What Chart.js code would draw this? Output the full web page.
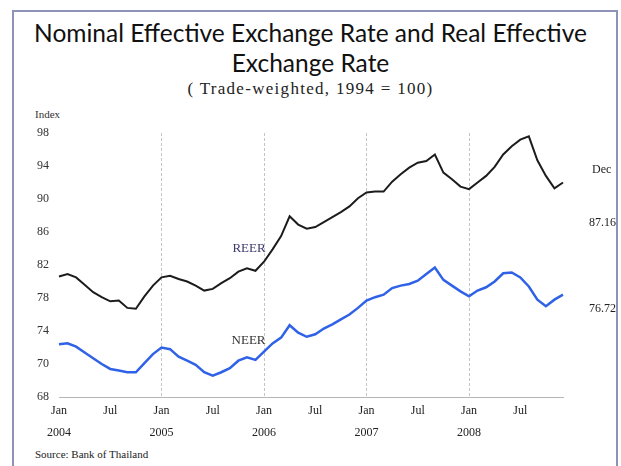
<!DOCTYPE html>
<html>
<head>
<meta charset="utf-8">
<script src="https://cdn.jsdelivr.net/npm/chart.js@4.4.1/dist/chart.umd.min.js"></script>
<style>
  html, body { margin: 0; padding: 0; background: #fff; }
  #contenedor { position: relative; width: 621px; height: 466px; overflow: hidden; background: #fff; }
  #marco { position: absolute; left: 12px; top: 10px; width: 606px; height: 480px; border: 2px solid #8e92b6; box-sizing: border-box; }
  #titulo { position: absolute; left: 0; top: 18px; width: 621px; text-align: center; font-family: 'Lato', sans-serif; font-size: 24.5px; line-height: 30px; color: #111; }
  #subtitulo { position: absolute; left: 0; top: 79px; width: 621px; text-align: center; font-family: 'Liberation Serif', serif; font-size: 17px; letter-spacing: 1.3px; color: #222; }
  #indice { position: absolute; left: 35px; top: 108px; font-family: 'Liberation Serif', serif; font-size: 11px; color: #333; }
  #fuente { position: absolute; left: 35px; top: 448px; font-family: 'Liberation Serif', serif; font-size: 11px; color: #222; }
  #grafico { position: absolute; left: 0; top: 0; }
</style>
</head>
<body>
<div id="contenedor">
  <div id="marco"></div>
  <div id="titulo">Nominal Effective Exchange Rate and Real Effective<br>Exchange Rate</div>
  <div id="subtitulo">( Trade-weighted, 1994 = 100)</div>
  <div id="indice">Index</div>
  <div id="fuente">Source: Bank of Thailand</div>
  <canvas id="grafico" width="621" height="466"></canvas>
</div>
<script>
const meses = ['Jan', 'Feb', 'Mar', 'Apr', 'May', 'Jun', 'Jul', 'Aug', 'Sep', 'Oct', 'Nov', 'Dec'];
const anios = ['2004', '2005', '2006', '2007', '2008'];

// REER (negro) y NEER (azul), mensual ene-2004 a dic-2008
const reer = [
  80.6, 80.9, 80.5, 79.6, 78.7, 78.1, 77.6, 77.7, 76.8, 76.7, 78.2, 79.5,
  80.5, 80.7, 80.3, 80.0, 79.5, 78.9, 79.1, 79.8, 80.4, 81.2, 81.6, 81.3,
  82.4, 83.9, 85.5, 87.9, 86.9, 86.4, 86.6, 87.2, 87.8, 88.4, 89.1, 90.1,
  90.8, 90.9, 90.9, 92.1, 93.0, 93.8, 94.4, 94.6, 95.4, 93.2, 92.4, 91.5,
  91.2, 92.0, 92.8, 93.9, 95.4, 96.4, 97.2, 97.6, 94.7, 92.8, 91.3, 92.0
];
const neer = [
  72.4, 72.5, 72.1, 71.4, 70.7, 70.0, 69.4, 69.2, 69.0, 69.0, 70.1, 71.2,
  72.0, 71.8, 70.9, 70.4, 69.9, 69.0, 68.6, 69.0, 69.5, 70.4, 70.8, 70.5,
  71.5, 72.5, 73.2, 74.7, 73.8, 73.3, 73.6, 74.3, 74.8, 75.4, 76.0, 76.8,
  77.7, 78.1, 78.4, 79.2, 79.5, 79.7, 80.1, 80.9, 81.7, 80.2, 79.5, 78.8,
  78.2, 78.9, 79.3, 80.0, 81.0, 81.1, 80.5, 79.4, 77.8, 77.0, 77.8, 78.4
];

// etiquetas del eje y tal como aparecen (la de abajo dice 68)
const etiquetasY = ['68', '70', '74', '78', '82', '86', '90', '94', '98'];
const etiquetasX = { 0: 'Jan', 6: 'Jul' };
const valoresFinales = ['87.16', '76.72'];

const categorias = [];
anios.forEach(a => meses.forEach(m => categorias.push(m + ' ' + a)));

const fuenteSerif = 'Liberation Serif';

const anotaciones = {
  id: 'anotaciones',
  afterDatasetsDraw(chart) {
    const { ctx, scales: { x, y } } = chart;
    ctx.save();
    ctx.textBaseline = 'middle';
    ctx.textAlign = 'left';
    ctx.font = `13px "${fuenteSerif}"`;
    ctx.fillStyle = '#3b3a6c';
    ctx.fillText('REER', x.getPixelForValue(20.3), y.getPixelForValue(84.0));
    ctx.fillStyle = '#333';
    ctx.fillText('NEER', x.getPixelForValue(20.2), y.getPixelForValue(72.8));
    ctx.font = `12px "${fuenteSerif}"`;
    ctx.fillStyle = '#222';
    ctx.fillText('Dec', x.right + 29, y.getPixelForValue(93.5));
    ctx.fillText(valoresFinales[0], x.right + 26, y.getPixelForValue(parseFloat(valoresFinales[0])));
    ctx.fillText(valoresFinales[1], x.right + 26, y.getPixelForValue(parseFloat(valoresFinales[1])));
    ctx.restore();
  }
};

new Chart(document.getElementById('grafico'), {
  type: 'line',
  data: {
    labels: categorias,
    datasets: [
      {
        label: 'REER',
        data: reer,
        borderColor: '#1c1c1c',
        borderWidth: 2,
        pointRadius: 0,
        tension: 0,
        fill: false
      },
      {
        label: 'NEER',
        data: neer,
        borderColor: '#2f62e6',
        borderWidth: 2.5,
        pointRadius: 0,
        tension: 0,
        fill: false
      }
    ]
  },
  options: {
    responsive: false,
    animation: false,
    layout: { padding: { left: 37, right: 58, top: 133, bottom: 17 } },
    plugins: {
      legend: { display: false },
      title: { display: false },
      tooltip: { enabled: false }
    },
    scales: {
      x: {
        type: 'category',
        offset: false,
        afterFit: s => { s.height = 52; },
        border: { display: true, color: '#b5b5b5', dash: [3, 2], width: 1 },
        grid: {
          drawTicks: false,
          lineWidth: 1,
          borderDash: [3, 3],
          dash: [3, 3],
          color: c => (c.index % 12 === 0 && c.index > 0) ? '#c4c4c4' : 'rgba(0,0,0,0)'
        },
        ticks: {
          autoSkip: false,
          maxRotation: 0,
          padding: 3,
          color: '#222',
          font: { family: fuenteSerif, size: 12, lineHeight: 1.85 },
          callback: (v, i) => {
            const m = i % 12;
            if (m === 0) return [etiquetasX[0], anios[i / 12]];
            if (m === 6) return etiquetasX[6];
            return '';
          }
        }
      },
      y: {
        min: 66,
        max: 98,
        afterFit: s => { s.width = 22; },
        border: { display: false },
        grid: { display: false, drawTicks: false },
        ticks: {
          stepSize: 4,
          crossAlign: 'far',
          padding: 0,
          color: '#333',
          font: { family: fuenteSerif, size: 12 },
          callback: (v, i) => etiquetasY[i]
        }
      }
    }
  },
  plugins: [anotaciones]
});
</script>
</body>
</html>
